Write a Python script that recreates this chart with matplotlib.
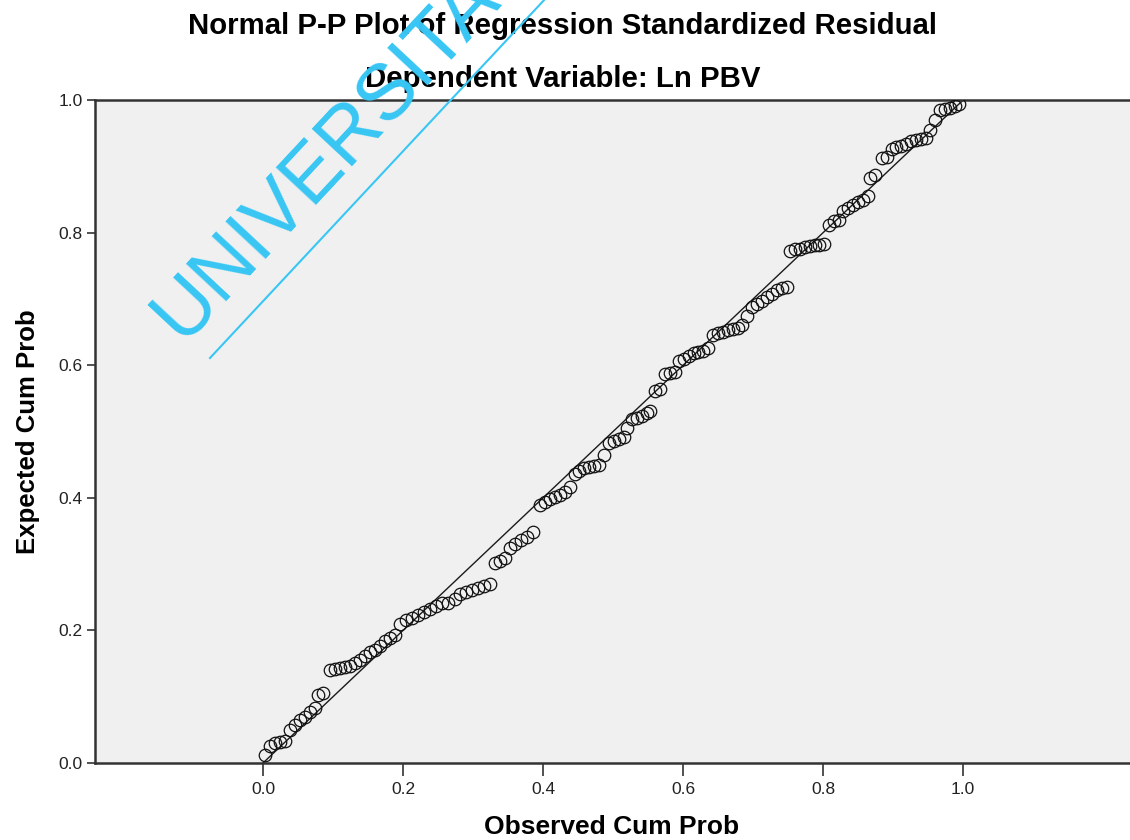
import matplotlib.pyplot as plt
from matplotlib.lines import Line2D

# observed / expected cumulative probabilities
observed = [
    0.003, 0.010, 0.017, 0.024, 0.031, 0.039, 0.046, 0.053, 0.060, 0.067,
    0.074, 0.079, 0.086, 0.096, 0.103, 0.110, 0.117, 0.124, 0.131, 0.139,
    0.146, 0.153, 0.160, 0.167, 0.174, 0.181, 0.189, 0.196, 0.204, 0.213,
    0.221, 0.230, 0.239, 0.247, 0.256, 0.264, 0.274, 0.281, 0.290, 0.299,
    0.307, 0.316, 0.324, 0.331, 0.338, 0.346, 0.353, 0.360, 0.368, 0.377,
    0.386, 0.396, 0.403, 0.410, 0.417, 0.424, 0.431, 0.438, 0.445, 0.452,
    0.459, 0.466, 0.473, 0.480, 0.487, 0.494, 0.501, 0.508, 0.515, 0.520,
    0.527, 0.534, 0.541, 0.548, 0.553, 0.560, 0.567, 0.574, 0.582, 0.589,
    0.594, 0.601, 0.608, 0.615, 0.622, 0.629, 0.636, 0.643, 0.650, 0.657,
    0.664, 0.671, 0.678, 0.685, 0.692, 0.699, 0.706, 0.713, 0.720, 0.727,
    0.734, 0.741, 0.748, 0.753, 0.760, 0.767, 0.774, 0.781, 0.788, 0.795,
    0.802, 0.809, 0.816, 0.823, 0.829, 0.836, 0.843, 0.850, 0.857, 0.864,
    0.867, 0.874, 0.884, 0.891, 0.898, 0.905, 0.912, 0.919, 0.926, 0.933,
    0.940, 0.947, 0.953, 0.960, 0.967, 0.974, 0.981, 0.988, 0.995,
]
expected = [
    0.012, 0.025, 0.030, 0.032, 0.033, 0.050, 0.057, 0.065, 0.070, 0.077,
    0.083, 0.103, 0.106, 0.141, 0.142, 0.143, 0.145, 0.147, 0.151, 0.156,
    0.162, 0.167, 0.171, 0.176, 0.184, 0.189, 0.193, 0.210, 0.215, 0.219,
    0.223, 0.228, 0.233, 0.237, 0.241, 0.242, 0.247, 0.255, 0.258, 0.261,
    0.264, 0.267, 0.270, 0.301, 0.304, 0.309, 0.325, 0.331, 0.336, 0.341,
    0.348, 0.389, 0.394, 0.399, 0.401, 0.405, 0.409, 0.416, 0.436, 0.440,
    0.445, 0.447, 0.448, 0.450, 0.465, 0.483, 0.486, 0.489, 0.492, 0.505,
    0.519, 0.521, 0.524, 0.528, 0.531, 0.562, 0.565, 0.587, 0.588, 0.590,
    0.607, 0.610, 0.614, 0.618, 0.620, 0.622, 0.626, 0.646, 0.649, 0.651,
    0.653, 0.655, 0.657, 0.661, 0.675, 0.688, 0.693, 0.697, 0.703, 0.708,
    0.714, 0.716, 0.718, 0.773, 0.775, 0.776, 0.778, 0.780, 0.781, 0.781,
    0.783, 0.812, 0.817, 0.820, 0.833, 0.838, 0.842, 0.847, 0.850, 0.855,
    0.883, 0.887, 0.913, 0.915, 0.927, 0.929, 0.931, 0.934, 0.938, 0.940,
    0.941, 0.943, 0.955, 0.970, 0.985, 0.987, 0.989, 0.992, 0.995,
]
ref_line = [0.0, 1.0]
tick_values = [0.0, 0.2, 0.4, 0.6, 0.8, 1.0]
tick_labels = ["0.0", "0.2", "0.4", "0.6", "0.8", "1.0"]

plt.rcParams["font.family"] = ["Liberation Sans", "DejaVu Sans"]

fig = plt.figure(figsize=(11.3, 8.4), dpi=100)
ax = fig.add_axes([0.0841, 0.0917, 0.9159, 0.789])
ax.set_facecolor("#f0f0f0")

ax.plot(ref_line, ref_line, color="#1a1a1a", lw=1.0, zorder=2)
ax.plot(observed, expected, "o", mfc="none", mec="#111111", mew=0.9,
        ms=9, zorder=3)

ax.set_xlim(-0.24, 1.2386)
ax.set_ylim(0, 1)
ax.set_xticks(tick_values)
ax.set_xticklabels(tick_labels)
ax.set_yticks(tick_values)
ax.set_yticklabels(tick_labels)
ax.tick_params(axis="x", length=9, width=1.2, color="#333333", pad=5,
               labelsize=12.5, labelcolor="#222222")
ax.tick_params(axis="y", length=6, width=1.2, color="#333333", pad=3,
               labelsize=12.5, labelcolor="#222222")

for side in ["left", "bottom", "top"]:
    ax.spines[side].set_color("#333333")
    ax.spines[side].set_linewidth(1.8)
ax.spines["right"].set_visible(False)

ax.set_xlabel("Observed Cum Prob", fontsize=19, fontweight="bold", va="center")
ax.xaxis.set_label_coords(0.4995, -0.097)
ax.set_ylabel("Expected Cum Prob", fontsize=18.5, fontweight="bold", va="center")
ax.yaxis.set_label_coords(-0.0647, 0.5)

fig.text(0.498, 0.969, "Normal P-P Plot of Regression Standardized Residual",
         ha="center", va="center", fontsize=21.2, fontweight="bold")
fig.text(0.498, 0.906, "Dependent Variable: Ln PBV",
         ha="center", va="center", fontsize=21.2, fontweight="bold")

# cyan watermark
wm_color = "#38c6f4"
fig.text(182 / 1130, 1 - 342 / 840, "UNIVERSITAS", color=wm_color,
         fontsize=57, rotation=47, rotation_mode="anchor",
         ha="left", va="baseline", zorder=10)
fig.add_artist(Line2D([210 / 1130, 560 / 1130], [1 - 358 / 840, 1 + 17 / 840],
                      color=wm_color, lw=1.5, transform=fig.transFigure,
                      zorder=10))

fig.savefig("out.png", dpi=100)
